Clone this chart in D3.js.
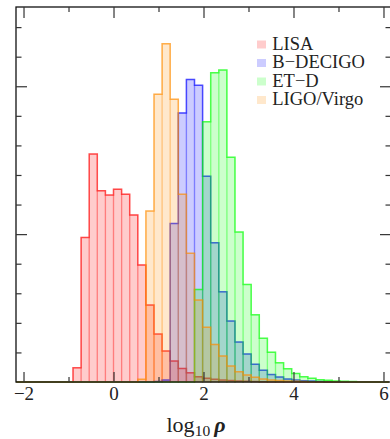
<!DOCTYPE html>
<html>
<head>
<meta charset="utf-8">
<script src="https://cdn.jsdelivr.net/npm/d3@7"></script>
<style>
  body { margin: 0; background: #fff; }
  svg text { font-family: "Liberation Serif", "DejaVu Serif", serif; fill: #222; }
</style>
</head>
<body>
<svg id="chart" width="390" height="439"></svg>
<script>
// shared binning of log10 rho (all four histograms use the same edges)
const binWidth = 0.18
const histStart = -2.16
const histEnd = 6.12

// density per bin, starting at the given left edge
const lisaStart = -0.9
const lisaDensity = [0.048, 0.489, 0.771, 0.647, 0.632, 0.652, 0.635, 0.565, 0.396, 0.26,
    0.162, 0.105, 0.071, 0.046, 0.031, 0.018, 0.0125, 0.009, 0.0068, 0.005, 0.0034, 0.0024, 0.0014, 0.001]

const bdecigoStart = 0.9
const bdecigoDensity = [0.0017, 0.0068, 0.536, 0.910, 1.023, 1.003, 0.696, 0.471, 0.305, 0.206,
    0.135, 0.095, 0.060, 0.040, 0.025, 0.017, 0.010, 0.0068, 0.0044, 0.003, 0.0017]

const etdStart = 1.8
const etdDensity = [0.313, 0.880, 1.046, 1.055, 0.760, 0.507, 0.330, 0.227, 0.148, 0.101,
    0.065, 0.045, 0.029, 0.018, 0.0125, 0.0078, 0.0057, 0.0034, 0.0024, 0.0014]

const ligoStart = 0.54
const ligoDensity = [0.009, 0.578, 0.973, 1.144, 0.956, 0.635, 0.435, 0.277, 0.185, 0.127,
    0.088, 0.054, 0.035, 0.024, 0.016, 0.010, 0.0068, 0.005, 0.0034, 0.0024, 0.0014]

const seriesNames = ["LISA", "B\u2212DECIGO", "ET\u2212D", "LIGO/Virgo"]
const seriesColors = ["#ff0000", "#0000ff", "#00ff00", "#ff8c00"]

const xMajor = [-2, 0, 2, 4, 6]
const xMinor = [-1, 1, 3, 5]
const yMajor = [0.5, 1.0]
const yMinor = [0.1, 0.2, 0.3, 0.4, 0.6, 0.7, 0.8, 0.9, 1.1, 1.2]

const series = [
    { start: lisaStart, values: lisaDensity },
    { start: bdecigoStart, values: bdecigoDensity },
    { start: etdStart, values: etdDensity },
    { start: ligoStart, values: ligoDensity }
].map((s, i) => ({ ...s, name: seriesNames[i], color: seriesColors[i] }))

const svg = d3.select("#chart")
// right edge of the frame sits just outside the picture, as in the original
const plotLeft = 16, plotRight = 391, plotTop = 7, plotBottom = 382

const x = d3.scaleLinear().domain([-2.167, 6.167]).range([plotLeft, plotRight])
const y = d3.scaleLinear().domain([0, 1.268]).range([plotBottom, plotTop])

// turn a series into full-range bins (zeros outside the data)
function toBins(s) {
    const nBins = Math.round((histEnd - histStart) / binWidth)
    const offset = Math.round((s.start - histStart) / binWidth)
    return d3.range(nBins).map(i => {
        const v = s.values[i - offset]
        return { x0: histStart + i * binWidth, x1: histStart + (i + 1) * binWidth, v: v === undefined ? 0 : v }
    })
}

const plot = svg.append("g")

series.forEach(s => {
    const bins = toBins(s)
    const g = plot.append("g")

    // filled bars
    g.selectAll("rect.bar")
        .data(bins.filter(b => b.v > 0))
        .join("rect")
        .attr("class", "bar")
        .attr("x", b => x(b.x0))
        .attr("y", b => y(b.v))
        .attr("width", b => x(b.x1) - x(b.x0))
        .attr("height", b => y(0) - y(b.v))
        .style("fill", s.color)
        .style("fill-opacity", 0.2)
        .style("stroke", s.color)
        .style("stroke-opacity", 0.22)
        .style("stroke-width", 1.3)

    // step outline
    const pts = bins.flatMap(b => [[b.x0, b.v], [b.x1, b.v]])
    const lineGenerator = d3.line().x(d => x(d[0])).y(d => y(d[1]))
    g.append("path")
        .attr("d", lineGenerator(pts))
        .style("fill", "none")
        .style("stroke", s.color)
        .style("stroke-opacity", 0.6)
        .style("stroke-width", 1.5)
})

// frame
svg.append("rect")
    .attr("x", plotLeft).attr("y", plotTop)
    .attr("width", plotRight - plotLeft).attr("height", plotBottom - plotTop)
    .style("fill", "none")
    .style("stroke", "#111")
    .style("stroke-width", 1.3)

// ticks, all pointing inwards
function styleAxis(g) {
    g.select(".domain").remove()
    g.selectAll(".tick line").style("stroke", "#333").style("stroke-width", 1.2)
}

svg.append("g").attr("transform", `translate(0,${plotBottom})`)
    .call(d3.axisBottom(x).tickValues(xMajor).tickSize(-10).tickPadding(4.5))
    .call(styleAxis)
    .call(g => g.selectAll("text").style("font-size", "19px").style("font-family", "Liberation Serif").style("fill", "#222"))
svg.append("g").attr("transform", `translate(0,${plotBottom})`)
    .call(d3.axisBottom(x).tickValues(xMinor).tickSize(-5).tickFormat(""))
    .call(styleAxis)
svg.append("g").attr("transform", `translate(0,${plotTop})`)
    .call(d3.axisTop(x).tickValues(xMajor).tickSize(-11).tickFormat(""))
    .call(styleAxis)
svg.append("g").attr("transform", `translate(0,${plotTop})`)
    .call(d3.axisTop(x).tickValues(xMinor).tickSize(-5).tickFormat(""))
    .call(styleAxis)

svg.append("g").attr("transform", `translate(${plotLeft},0)`)
    .call(d3.axisLeft(y).tickValues(yMajor).tickSize(-11).tickFormat(""))
    .call(styleAxis)
svg.append("g").attr("transform", `translate(${plotLeft},0)`)
    .call(d3.axisLeft(y).tickValues(yMinor).tickSize(-5.5).tickFormat(""))
    .call(styleAxis)
svg.append("g").attr("transform", `translate(${plotRight},0)`)
    .call(d3.axisRight(y).tickValues(yMajor).tickSize(-11).tickFormat(""))
    .call(styleAxis)
svg.append("g").attr("transform", `translate(${plotRight},0)`)
    .call(d3.axisRight(y).tickValues(yMinor).tickSize(-5.5).tickFormat(""))
    .call(styleAxis)

// legend
const legend = svg.append("g").attr("transform", "translate(257,40.5)")
const rows = legend.selectAll("g")
    .data(series)
    .join("g")
    .attr("transform", (d, i) => `translate(0,${i * 18.5})`)
rows.append("rect")
    .attr("width", 9).attr("height", 8)
    .style("fill", d => d.color)
    .style("fill-opacity", 0.2)
rows.append("text")
    .attr("x", 15.3).attr("y", 9)
    .style("font-size", "18.5px")
    .text(d => d.name)

// x label
const xlabel = svg.append("text")
    .attr("x", 166.5).attr("y", 431.5)
    .style("font-size", "22px")
xlabel.append("tspan").text("log")
xlabel.append("tspan").attr("dy", 4).style("font-size", "15.5px").text("10")
xlabel.append("tspan").attr("dy", -4).attr("dx", 4)
    .style("font-style", "italic").style("font-weight", "bold").text("\u03c1")
</script>
</body>
</html>
